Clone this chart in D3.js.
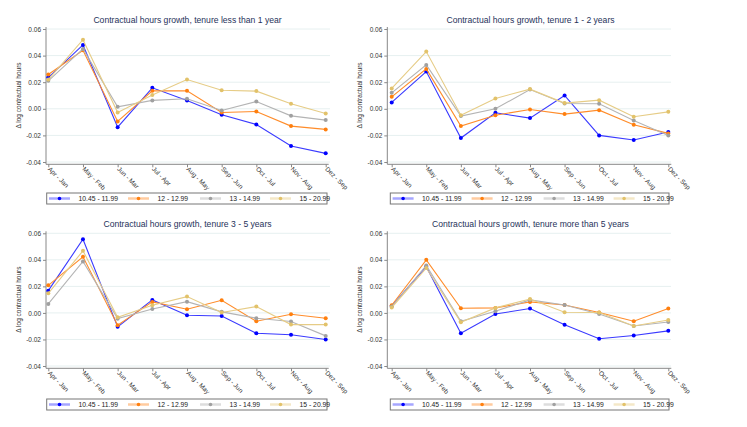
<!DOCTYPE html>
<html>
<head>
<meta charset="utf-8">
<script src="https://cdn.jsdelivr.net/npm/d3@7"></script>
<style>
  html, body { margin: 0; padding: 0; background: #fff; }
  svg { display: block; font-family: Arial, "Liberation Sans", sans-serif; }
</style>
</head>
<body>
<svg id="chart" width="747" height="427"></svg>
<script>
// ---- data ----
const categories = ["Apr - Jan", "May - Feb", "Jun - Mar", "Jul - Apr", "Aug - May", "Sep - Jun", "Oct - Jul", "Nov - Aug", "Dez - Sep"];
const seriesNames = ["10.45 - 11.99", "12 - 12.99", "13 - 14.99", "15 - 20.99"];
const yTicks = [0.06, 0.04, 0.02, 0.00, -0.02, -0.04];
const titles = [
  "Contractual hours growth, tenure less than 1 year",
  "Contractual hours growth, tenure 1 - 2 years",
  "Contractual hours growth, tenure 3 - 5 years",
  "Contractual hours growth, tenure more than 5 years"
];

const tenureLess1 = [
  [0.0235, 0.048, -0.0138, 0.0158, 0.0063, -0.0045, -0.0118, -0.028, -0.0335],
  [0.0258, 0.044, -0.0095, 0.0135, 0.0135, -0.0028, -0.002, -0.013, -0.0155],
  [0.021, 0.045, 0.0015, 0.0063, 0.0075, -0.0013, 0.0055, -0.0053, -0.0085],
  [0.022, 0.052, -0.0028, 0.0103, 0.022, 0.014, 0.0133, 0.0038, -0.0035]
];
const tenure1to2 = [
  [0.0048, 0.028, -0.022, -0.003, -0.007, 0.010, -0.020, -0.0235, -0.0175],
  [0.009, 0.030, -0.013, -0.0048, -0.0005, -0.004, -0.001, -0.012, -0.0185],
  [0.012, 0.033, -0.0055, 0.000, 0.0145, 0.004, 0.0038, -0.0088, -0.020],
  [0.0153, 0.043, -0.0048, 0.0078, 0.0148, 0.0043, 0.0065, -0.006, -0.0023]
];
const tenure3to5 = [
  [0.0168, 0.0555, -0.0105, 0.0098, -0.0018, -0.0023, -0.0153, -0.0165, -0.020],
  [0.0208, 0.0423, -0.0093, 0.0083, 0.0028, 0.0095, -0.0063, -0.001, -0.004],
  [0.0068, 0.0388, -0.0043, 0.003, 0.0085, 0.0008, -0.004, -0.0065, -0.0173],
  [0.0148, 0.0468, -0.0033, 0.0058, 0.0123, 0.0003, 0.0048, -0.0088, -0.0088]
];
const tenureMore5 = [
  [0.0053, 0.0348, -0.0153, -0.0008, 0.0033, -0.009, -0.0195, -0.017, -0.0135],
  [0.0058, 0.040, 0.0035, 0.0038, 0.0083, 0.006, 0.0003, -0.0063, 0.0033],
  [0.0048, 0.0358, -0.0063, 0.0013, 0.0098, 0.006, -0.0008, -0.0098, -0.0068],
  [0.004, 0.0338, -0.007, 0.0038, 0.0105, 0.0005, 0.0003, -0.0098, -0.0053]
];

const panelData = [tenureLess1, tenure1to2, tenure3to5, tenureMore5];

// ---- style ----
const markerColors = ["#0000ff", "#ff7f0e", "#a0a0a0", "#e2c26a"];
const lineColors = ["#3a3aff", "#ff8c2a", "#b4b4b4", "#e6cc86"];

// panel geometry
const layouts = [
  { axisX: 46,  x0: 48.3,  x1: 325.7, yTop: 29,    yBot: 162,   gridR: 330, titleY: 23,  legY: 193, legX0: 46.7,  legX1: 327 },
  { axisX: 387.3, x0: 391.7, x1: 668.3, yTop: 29,  yBot: 162,   gridR: 671, titleY: 23,  legY: 193, legX0: 390.3, legX1: 669 },
  { axisX: 46,  x0: 48.3,  x1: 325.7, yTop: 233.3, yBot: 366,   gridR: 330, titleY: 227, legY: 399, legX0: 46.7,  legX1: 327 },
  { axisX: 387.3, x0: 391.7, x1: 668.3, yTop: 233.3, yBot: 366, gridR: 671, titleY: 227, legY: 399, legX0: 390.3, legX1: 669 }
];

const svg = d3.select("#chart");

layouts.forEach((L, pi) => {
  const g = svg.append("g");
  const x = d3.scalePoint().domain(categories).range([L.x0, L.x1]);
  const y = d3.scaleLinear().domain([-0.04, 0.06]).range([L.yBot, L.yTop]);
  const axisBottomY = L.yBot + 2.3;

  // gridlines
  g.append("g").selectAll("line").data(yTicks).join("line")
    .attr("x1", L.axisX).attr("x2", L.gridR)
    .attr("y1", d => y(d)).attr("y2", d => y(d))
    .attr("stroke", "#e6f0f0").attr("stroke-width", 1);

  // y axis
  const ya = g.append("g").attr("transform", `translate(${L.axisX},0)`)
    .call(d3.axisLeft(y).tickValues(yTicks).tickFormat(d3.format(".2f")).tickSize(3).tickPadding(2));
  ya.select(".domain").remove();
  ya.append("line").attr("x1", 0).attr("x2", 0).attr("y1", L.yTop - 2).attr("y2", axisBottomY)
    .attr("stroke", "#888").attr("stroke-width", 1);
  ya.selectAll(".tick line").attr("stroke", "#888");
  ya.selectAll(".tick text").attr("fill", "#333").style("font-size", "6.5px")
    .text(d => d3.format(".2f")(d).replace("−", "-"));

  // x axis
  const xa = g.append("g").attr("transform", `translate(0,${axisBottomY})`)
    .call(d3.axisBottom(x).tickSize(3).tickPadding(2));
  xa.select(".domain").remove();
  xa.append("line").attr("x1", L.axisX).attr("x2", L.x1 + 3).attr("y1", 0).attr("y2", 0)
    .attr("stroke", "#888").attr("stroke-width", 1);
  xa.selectAll(".tick line").attr("stroke", "#888");
  xa.selectAll(".tick text")
    .attr("fill", "#333").style("font-size", "6.5px")
    .attr("text-anchor", "start")
    .attr("transform", "translate(0,1) rotate(45)")
    .attr("x", 2).attr("y", 2).attr("dy", "0.3em");

  // title
  g.append("text").attr("x", (L.x0 + L.x1) / 2 + 0.5).attr("y", L.titleY)
    .attr("text-anchor", "middle").attr("fill", "#26325a").style("font-size", "8.6px")
    .text(titles[pi]);

  // y label
  g.append("text")
    .attr("transform", `translate(${L.axisX - 25},${(L.yTop + L.yBot) / 2}) rotate(-90)`)
    .attr("text-anchor", "middle").attr("fill", "#333").style("font-size", "6.5px")
    .text("\u0394 log contractual hours");

  // series
  const data = panelData[pi];
  const line = d3.line().x((d, i) => x(categories[i])).y(d => y(d));
  data.forEach((vals, si) => {
    g.append("path").datum(vals).attr("d", line)
      .attr("fill", "none").attr("stroke", lineColors[si]).attr("stroke-width", 1.1);
    g.append("g").selectAll("circle").data(vals).join("circle")
      .attr("cx", (d, i) => x(categories[i])).attr("cy", d => y(d))
      .attr("r", 2).attr("fill", markerColors[si]);
  });

  // legend
  const lg = g.append("g");
  lg.append("rect").attr("x", L.legX0).attr("y", L.legY)
    .attr("width", L.legX1 - L.legX0).attr("height", 11)
    .attr("fill", "#fff").attr("stroke", "#777").attr("stroke-width", 1);
  const itemOffsets = [2.3, 81.3, 153.3, 223.3];
  seriesNames.forEach((name, si) => {
    const ox = L.legX0 + itemOffsets[si];
    const cy = L.legY + 5.5;
    lg.append("line").attr("x1", ox).attr("x2", ox + 21).attr("y1", cy).attr("y2", cy)
      .attr("stroke", lineColors[si]).attr("stroke-opacity", 0.45).attr("stroke-width", 2.5);
    lg.append("circle").attr("cx", ox + 10.5).attr("cy", cy).attr("r", 1.8).attr("fill", markerColors[si]);
    lg.append("text").attr("x", ox + 29.5).attr("y", cy).attr("dy", "0.35em")
      .attr("fill", "#222").style("font-size", "6.8px").text(name);
  });
});
</script>
</body>
</html>
